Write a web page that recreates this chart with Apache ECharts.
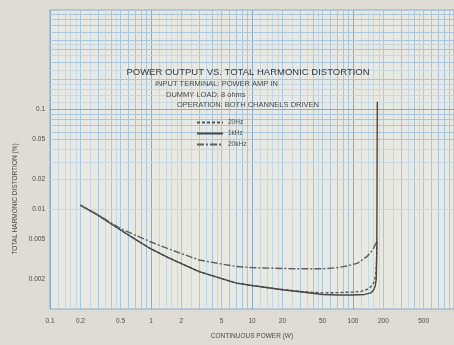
<!DOCTYPE html>
<html>
<head>
<meta charset="utf-8">
<style>
  html, body { margin: 0; padding: 0; background: #dedcd5; }
  #chart { width: 454px; height: 345px; }
</style>
<script src="https://cdn.jsdelivr.net/npm/echarts@6/dist/echarts.min.js"></script>
</head>
<body>
<div id="chart"></div>
<script>
// axis tick labels
const powerTicks = [0.1, 0.2, 0.5, 1, 2, 5, 10, 20, 50, 100, 200, 500]
const thdTicks = [0.002, 0.005, 0.01, 0.02, 0.05, 0.1]

// graph paper lines (one set per decade)
const xDecades = [0.1, 1, 10, 100]
const yDecades = [0.001, 0.01, 0.1]
const paperSteps = [2, 3, 4, 5, 6, 7, 8, 9]
const paperFine = [1.2, 1.4, 1.6, 1.8, 2.5, 3.5, 4.5]

// 20Hz
const power20 = [0.2, 0.3, 0.5, 0.7, 1, 1.5, 2, 3, 5, 7, 10, 20, 30, 50, 70, 100, 120, 140, 155, 163, 168, 171, 173]
const thd20 = [0.011, 0.0087, 0.0062, 0.005, 0.004, 0.00326, 0.00285, 0.00237, 0.00202, 0.00182, 0.00172, 0.00157, 0.0015, 0.00145, 0.00146, 0.00148, 0.0015, 0.00158, 0.00172, 0.0019, 0.0022, 0.003, 0.005]
// 1kHz
const power1k = [0.2, 0.3, 0.5, 0.7, 1, 1.5, 2, 3, 5, 7, 10, 20, 30, 50, 70, 100, 130, 150, 160, 166, 170, 172, 173, 174]
const thd1k = [0.011, 0.0087, 0.0062, 0.005, 0.004, 0.00326, 0.00285, 0.00237, 0.00202, 0.00182, 0.00172, 0.00156, 0.00149, 0.0014, 0.00138, 0.00138, 0.0014, 0.00145, 0.00155, 0.0017, 0.002, 0.004, 0.02, 0.12]
// 20kHz
const power20k = [0.2, 0.3, 0.5, 0.7, 1, 1.5, 2, 3, 5, 7, 10, 20, 30, 50, 70, 87, 110, 137, 156, 166, 172]
const thd20k = [0.011, 0.0088, 0.0064, 0.0055, 0.0047, 0.004, 0.0036, 0.0031, 0.00283, 0.00267, 0.0026, 0.00255, 0.00253, 0.00253, 0.0026, 0.0027, 0.00287, 0.00335, 0.0039, 0.0044, 0.0049]

const font = "'Liberation Sans', Arial, sans-serif"
const ink = '#4a4a4a'

const pair = (xs, ys) => xs.map((x, i) => [x, ys[i]])

const paperLines = []
const addLines = (decades, axisKey) => {
  decades.forEach(d => {
    paperLines.push({ [axisKey]: d, lineStyle: { type: 'solid', color: '#86aacb', width: 1 } })
    paperSteps.forEach(s => paperLines.push({ [axisKey]: d * s, lineStyle: { type: 'solid', color: '#a9c6dc', width: 1 } }))
    paperFine.forEach(s => paperLines.push({ [axisKey]: d * s, lineStyle: { type: 'solid', color: '#c6d8e3', width: 1 } }))
  })
}
addLines(xDecades, 'xAxis')
addLines(yDecades, 'yAxis')

const curve = (name, xs, ys, color, type) => ({
  name,
  type: 'line',
  z: 10,
  symbol: 'none',
  smooth: false,
  lineStyle: { color, width: 1.4, type },
  itemStyle: { color },
  data: pair(xs, ys)
})

const note = (x, y, text, size, color) => ({
  type: 'text',
  z: 20,
  style: { x, y, text, fill: color || ink, font: size + 'px ' + font, textVerticalAlign: 'middle' }
})

const chart = echarts.init(document.getElementById('chart'))
const option = {
  animation: false,
  backgroundColor: '#dedcd5',
  grid: { left: 50, top: 10, width: 408, height: 303, show: true, backgroundColor: '#e9e9e3', borderColor: '#86aacb', borderWidth: 1 },
  legend: {
    orient: 'vertical',
    left: 196,
    top: 119,
    padding: 0,
    itemWidth: 26,
    itemHeight: 7,
    itemGap: 4,
    itemStyle: { opacity: 0 },
    textStyle: { fontSize: 6.5, color: ink, fontFamily: font },
    data: ['20Hz', '1kHz', '20kHz']
  },
  xAxis: {
    type: 'log',
    logBase: 10,
    min: 0.1,
    max: 1000,
    name: 'CONTINUOUS POWER (W)',
    nameLocation: 'middle',
    nameGap: 24,
    nameTextStyle: { fontSize: 6.5, color: ink, fontFamily: font },
    axisLine: { show: false },
    axisTick: { show: false },
    splitLine: { show: false },
    axisLabel: {
      customValues: powerTicks,
      fontSize: 6.5,
      color: ink,
      fontFamily: font,
      margin: 9,
      formatter: v => String(v)
    }
  },
  yAxis: {
    type: 'log',
    logBase: 10,
    min: 0.001,
    max: 1,
    axisLine: { show: false },
    axisTick: { show: false },
    splitLine: { show: false },
    axisLabel: {
      customValues: thdTicks,
      fontSize: 6.5,
      color: ink,
      fontFamily: font,
      margin: 5,
      formatter: v => String(v)
    }
  },
  graphic: [
    { type: 'text', z: 20, style: { x: 248, y: 72, text: 'POWER OUTPUT VS. TOTAL HARMONIC DISTORTION', fill: '#3a3a3a', font: '9.5px ' + font, textAlign: 'center', textVerticalAlign: 'middle' } },
    note(155, 84, 'INPUT TERMINAL: POWER AMP IN', 7.5),
    note(166, 95, 'DUMMY LOAD: 8 ohms', 7.5),
    note(177, 105, 'OPERATION: BOTH CHANNELS DRIVEN', 7.5),
    { type: 'text', z: 20, x: 15, y: 199, rotation: Math.PI / 2, style: { x: 0, y: 0, text: 'TOTAL HARMONIC DISTORTION (%)', fill: ink, font: '6.5px ' + font, textAlign: 'center', textVerticalAlign: 'middle' } }
  ],
  series: [
    {
      name: 'paper',
      type: 'line',
      data: [[1, 0.01]],
      symbol: 'none',
      silent: true,
      lineStyle: { opacity: 0 },
      markLine: { z: 1, silent: true, symbol: ['none', 'none'], label: { show: false }, animation: false, data: paperLines }
    },
    curve('20Hz', power20, thd20, '#555', [3, 2]),
    curve('1kHz', power1k, thd1k, '#474747', 'solid'),
    curve('20kHz', power20k, thd20k, '#5e5e5e', [7, 2, 2, 2])
  ]
}
chart.setOption(option)
</script>
</body>
</html>
